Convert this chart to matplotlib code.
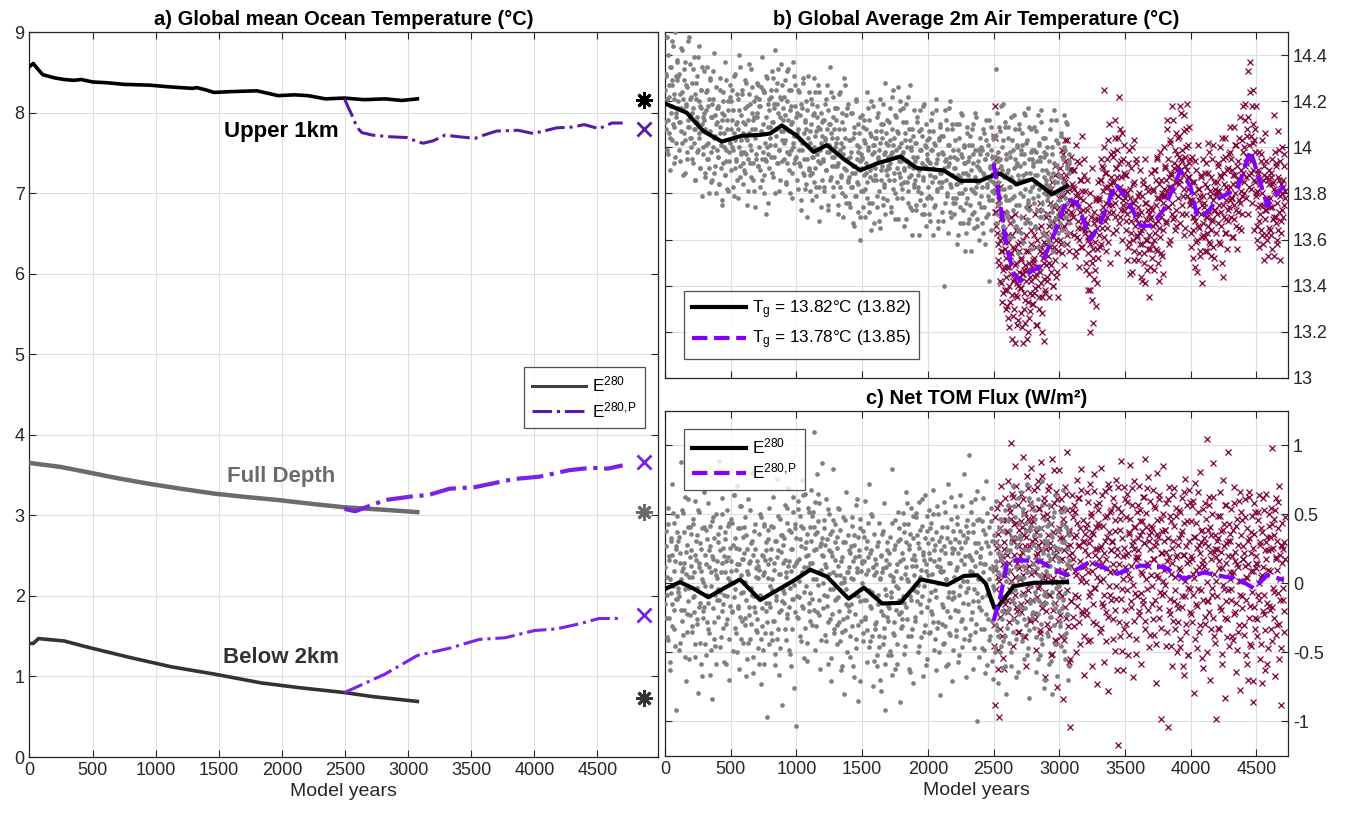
import numpy as np
import matplotlib
matplotlib.use('Agg')
import matplotlib.pyplot as plt
from matplotlib.lines import Line2D
from matplotlib.ticker import FixedLocator, FixedFormatter

plt.rcParams['font.family'] = ['Liberation Sans', 'DejaVu Sans']
plt.rcParams['mathtext.default'] = 'regular'
plt.rcParams['axes.unicode_minus'] = False

# ---------------- Panel a: ocean temperature (deg C) ----------------
upper_ctrl_yr = [0, 30, 60, 105, 200, 275, 350, 410, 500, 614, 750, 953, 1100, 1292, 1325, 1400,
                 1462, 1600, 1801, 1970, 2100, 2207, 2344, 2496, 2650, 2818, 2950, 3073]
upper_ctrl = [8.57, 8.61, 8.55, 8.47, 8.43, 8.41, 8.40, 8.41, 8.38, 8.37, 8.35, 8.34, 8.32, 8.30, 8.31, 8.28,
              8.25, 8.26, 8.27, 8.21, 8.22, 8.21, 8.17, 8.18, 8.16, 8.17, 8.15, 8.17]
upper_pert_yr = [2496, 2530, 2560, 2581, 2610, 2635, 2717, 2850, 2988, 3090, 3122, 3200, 3293, 3400,
                 3530, 3600, 3700, 3870, 3990, 4100, 4175, 4300, 4395, 4513, 4615, 4700]
upper_pert = [8.17, 8.05, 7.95, 7.87, 7.79, 7.75, 7.72, 7.70, 7.69, 7.63, 7.62, 7.65, 7.72, 7.70,
              7.68, 7.72, 7.77, 7.78, 7.74, 7.78, 7.81, 7.82, 7.85, 7.80, 7.87, 7.87]
full_ctrl_yr = [0, 250, 444, 700, 953, 1200, 1462, 1700, 1970, 2250, 2496, 2800, 3073]
full_ctrl = [3.65, 3.60, 3.54, 3.46, 3.39, 3.33, 3.27, 3.23, 3.19, 3.14, 3.10, 3.07, 3.04]
full_pert_yr = [2496, 2581, 2700, 2818, 3055, 3157, 3327, 3530, 3836, 4040, 4275, 4446, 4582, 4700]
full_pert = [3.08, 3.05, 3.12, 3.19, 3.24, 3.25, 3.33, 3.35, 3.45, 3.48, 3.56, 3.59, 3.58, 3.62]
below_ctrl_yr = [0, 30, 71, 275, 444, 783, 1122, 1462, 1835, 2140, 2496, 2717, 3073]
below_ctrl = [1.41, 1.41, 1.47, 1.44, 1.37, 1.24, 1.12, 1.03, 0.92, 0.86, 0.80, 0.75, 0.69]
below_pert_yr = [2496, 2818, 3073, 3327, 3564, 3767, 4003, 4175, 4376, 4513, 4700]
below_pert = [0.80, 1.03, 1.26, 1.35, 1.46, 1.48, 1.57, 1.59, 1.66, 1.72, 1.72]
# equilibrium estimates plotted at the right edge
eq_year = 4870
eq_ctrl = [8.15, 3.04, 0.73]      # asterisks: upper, full, below
eq_pert = [7.79, 3.66, 1.76]      # crosses

# ---------------- Panel b: 2m air temperature ----------------
tas_ctrl_yr = [0, 165, 292, 432, 584, 724, 800, 889, 1003, 1130, 1231, 1358, 1485, 1612, 1790, 1917,
               2120, 2247, 2399, 2500, 2551, 2678, 2793, 2945, 3059]
tas_ctrl = [14.19, 14.15, 14.07, 14.025, 14.05, 14.054, 14.06, 14.095, 14.05, 13.98, 14.01, 13.95, 13.90,
            13.93, 13.96, 13.91, 13.90, 13.855, 13.855, 13.88, 13.885, 13.84, 13.862, 13.797, 13.833]
tas_pert_yr = [2500, 2551, 2602, 2653, 2704, 2780, 2856, 2945, 3059, 3135, 3237, 3313, 3427, 3516, 3618,
               3694, 3795, 3922, 3998, 4049, 4130, 4201, 4354, 4455, 4583, 4709]
tas_pert = [13.93, 13.75, 13.56, 13.455, 13.42, 13.46, 13.485, 13.60, 13.775, 13.76, 13.60, 13.67, 13.84,
            13.775, 13.66, 13.66, 13.73, 13.90, 13.83, 13.70, 13.72, 13.775, 13.82, 13.986, 13.746, 13.833]
# sampled annual points (two interleaved samples, every 5 model years each),
# hundredths of deg C above 13 deg C
tas_ctrl_pts_start = [0, 2]
tas_ctrl_pts_a = [
    125, 108, 131, 148, 112, 97, 122, 135, 104, 118, 146, 127, 110, 93, 121, 150, 115, 102, 129, 138,
    120, 99, 132, 111, 143, 107, 124, 88, 116, 129, 103, 137, 118, 95, 126, 112, 148, 109, 121, 100,
    104, 128, 93, 117, 139, 108, 86, 121, 113, 131, 99, 144, 106, 118, 91, 125, 110, 135, 97, 115,
    112, 89, 124, 101, 135, 95, 118, 80, 107, 129, 98, 113, 86, 121, 104, 141, 92, 110, 126, 99,
    96, 118, 84, 109, 130, 101, 77, 115, 93, 124, 106, 88, 137, 99, 112, 82, 120, 103, 94, 127,
    108, 90, 125, 99, 116, 79, 103, 132, 94, 111, 86, 121, 100, 140, 92, 114, 97, 123, 84, 106,
    98, 117, 89, 128, 104, 75, 112, 95, 136, 101, 119, 87, 108, 126, 93, 113, 81, 104, 122, 97,
    115, 92, 127, 100, 83, 118, 106, 139, 95, 110, 88, 124, 102, 71, 113, 130, 97, 109, 91, 121,
    104, 125, 96, 133, 111, 87, 119, 101, 142, 108, 93, 128, 115, 99, 81, 122, 107, 136, 94, 117,
    112, 95, 129, 103, 84, 120, 98, 134, 107, 90, 116, 125, 99, 78, 111, 102, 131, 93, 118, 105,
    96, 115, 82, 108, 124, 92, 103, 73, 117, 99, 128, 88, 106, 112, 84, 120, 95, 131, 101, 90,
    107, 88, 121, 96, 77, 114, 100, 130, 91, 105, 83, 118, 97, 109, 68, 124, 93, 102, 115, 86,
    94, 112, 81, 119, 103, 90, 127, 98, 75, 110, 101, 135, 87, 106, 96, 122, 83, 108, 117, 92,
    102, 85, 117, 93, 71, 108, 99, 124, 88, 111, 80, 97, 130, 91, 104, 76, 114, 95, 86, 119,
    87, 103, 74, 98, 115, 83, 92, 66, 106, 89, 121, 79, 95, 110, 84, 100, 70, 113, 91, 97,
    96, 81, 109, 88, 70, 102, 93, 124, 85, 99, 76, 112, 90, 105, 64, 97, 118, 86, 101, 91,
    88, 104, 79, 113, 95, 68, 99, 121, 86, 107, 92, 75, 110, 97, 83, 128, 90, 102, 77, 96,
    101, 86, 117, 93, 72, 108, 98, 125, 89, 104, 80, 96, 113, 91, 106, 69, 100, 120, 87, 94,
    97, 82, 111, 90, 66, 103, 94, 119, 85, 100, 76, 108, 92, 127, 88, 99, 73, 105, 91, 84,
    86, 102, 75, 96, 113, 83, 90, 62, 99, 108, 80, 93, 118, 87, 71, 101, 92, 110, 78, 95,
    94, 79, 107, 88, 68, 99, 85, 115, 91, 74, 102, 87, 121, 93, 82, 97, 65, 104, 89, 110,
    83, 98, 72, 105, 90, 40, 94, 112, 86, 79, 101, 92, 117, 84, 96, 70, 108, 88, 99, 76,
    91, 76, 103, 84, 58, 95, 88, 110, 80, 67, 97, 85, 114, 89, 73, 100, 82, 93, 63, 106,
    78, 94, 69, 101, 86, 55, 90, 108, 81, 97, 72, 87, 115, 83, 92, 66, 99, 85, 76, 104,
    90, 74, 99, 83, 63, 106, 88, 95, 70, 112, 84, 79, 101, 42, 92, 86, 109, 77, 96, 81,
    93, 80, 105, 87, 134, 71, 98, 85, 109, 76, 95, 118, 82, 90, 66, 103, 88, 111, 79, 97,
    89, 72, 104, 83, 61, 96, 87, 113, 78, 99, 68, 91, 108, 84, 75, 101, 93, 64, 86, 110,
    80, 97, 70, 106, 88, 59, 93, 115, 82, 74, 102, 86, 117, 77, 95, 67, 89, 108, 83, 99,
    92, 76, 109, 84, 65, 98, 88, 114, 79, 101, 70, 94, 116, 83, 73, 104, 87, 96, 62, 90,
    86, 71, 100, 79, 58, 94, 83, 112, 75, 97, 66, 89, 116, 80, 69, 103, 85, 92, 63, 77,
    88, 73, 105, 81, 64, 96, 85, 114, 78, 99, 70, 91, 110, 83, 67, 94]
tas_ctrl_pts_b = [
    111, 132, 99, 121, 140, 106, 127, 90, 135, 115, 129, 103, 144, 109, 123, 96, 131, 113, 137, 117,
    131, 111, 123, 94, 117, 142, 102, 121, 106, 134, 89, 119, 127, 98, 146, 109, 114, 136, 104, 122,
    95, 115, 134, 102, 108, 123, 86, 128, 111, 98, 139, 104, 120, 91, 117, 125, 79, 113, 100, 133,
    108, 87, 116, 125, 95, 102, 121, 91, 130, 113, 85, 119, 100, 133, 89, 105, 114, 80, 111, 117,
    96, 117, 84, 106, 125, 91, 112, 75, 120, 100, 114, 88, 129, 94, 108, 81, 116, 98, 122, 102,
    120, 100, 112, 83, 106, 131, 91, 110, 95, 123, 78, 108, 116, 87, 135, 98, 103, 125, 93, 111,
    90, 110, 129, 97, 103, 118, 81, 123, 106, 93, 134, 99, 115, 86, 112, 120, 74, 108, 95, 128,
    113, 92, 121, 118, 90, 107, 126, 86, 125, 98, 80, 124, 95, 131, 94, 100, 119, 76, 116, 109,
    101, 122, 89, 111, 130, 96, 117, 80, 125, 105, 119, 93, 134, 99, 113, 86, 121, 103, 127, 107,
    122, 102, 114, 85, 108, 133, 93, 112, 97, 125, 80, 110, 118, 89, 137, 100, 105, 127, 95, 113,
    86, 106, 125, 93, 99, 114, 77, 119, 102, 89, 130, 95, 111, 82, 108, 116, 70, 104, 91, 124,
    102, 81, 110, 119, 89, 96, 115, 85, 124, 107, 79, 113, 94, 127, 83, 99, 108, 74, 105, 111,
    95, 112, 83, 104, 121, 90, 108, 73, 116, 98, 110, 86, 124, 92, 104, 79, 113, 96, 117, 100,
    112, 92, 104, 75, 98, 123, 83, 102, 87, 115, 70, 100, 108, 79, 127, 90, 95, 117, 85, 103,
    76, 96, 115, 83, 89, 104, 67, 109, 92, 79, 120, 85, 101, 72, 98, 106, 60, 94, 81, 114,
    95, 74, 103, 112, 82, 89, 108, 78, 117, 100, 72, 106, 87, 120, 76, 92, 101, 67, 98, 104,
    86, 107, 74, 96, 115, 81, 102, 65, 110, 90, 104, 78, 119, 84, 98, 71, 106, 88, 112, 92,
    111, 91, 103, 74, 97, 122, 82, 101, 86, 114, 69, 99, 107, 78, 126, 89, 94, 116, 84, 102,
    78, 98, 117, 85, 91, 106, 69, 111, 94, 81, 122, 87, 103, 74, 100, 108, 62, 96, 83, 116,
    94, 73, 102, 111, 81, 88, 107, 77, 116, 99, 71, 105, 86, 119, 75, 91, 100, 66, 97, 103,
    83, 104, 71, 93, 112, 78, 99, 62, 107, 87, 101, 75, 116, 81, 95, 68, 103, 85, 109, 89,
    105, 85, 97, 68, 91, 116, 76, 95, 80, 108, 63, 93, 101, 72, 120, 83, 88, 110, 78, 96,
    71, 91, 110, 78, 84, 99, 62, 104, 87, 74, 115, 80, 96, 67, 93, 101, 55, 89, 76, 109,
    88, 67, 96, 105, 75, 82, 101, 71, 110, 93, 65, 99, 80, 113, 69, 85, 94, 60, 91, 97,
    79, 100, 67, 89, 108, 74, 95, 58, 103, 83, 97, 71, 112, 77, 91, 64, 99, 81, 105, 85,
    104, 84, 96, 67, 90, 115, 75, 94, 79, 107, 62, 92, 100, 71, 119, 82, 87, 109, 77, 95,
    70, 90, 109, 77, 83, 98, 61, 103, 86, 73, 114, 79, 95, 66, 92, 100, 54, 88, 75, 108,
    92, 63, 99, 101, 79, 86, 97, 67, 114, 89, 69, 103, 76, 109, 73, 81, 98, 56, 95, 93,
    78, 99, 66, 88, 107, 73, 94, 57, 102, 82, 96, 70, 111, 76, 90, 63, 98, 80, 104, 84,
    97, 77, 89, 60, 83, 108, 68, 87, 72, 100, 55, 85, 93, 64, 112, 75, 80, 102, 70, 88,
    67, 87, 106, 74, 80, 95, 58, 100, 83, 70, 111, 76, 92, 63, 89, 97]
tas_pert_pts_start = [2500, 2502]
tas_pert_pts_a = [
    105, 88, 118, 72, 95, 63, 84, 51, 77, 60, 42, 69, 55, 33, 61, 47, 72, 38, 56, 44,
    48, 31, 62, 40, 22, 53, 45, 70, 36, 27, 57, 43, 15, 49, 64, 35, 41, 25, 55, 46,
    39, 52, 28, 45, 15, 60, 37, 47, 24, 55, 42, 68, 33, 20, 50, 44, 29, 58, 36, 48,
    51, 37, 62, 44, 23, 57, 48, 73, 40, 30, 55, 46, 66, 35, 20, 52, 43, 59, 38, 49,
    58, 44, 71, 53, 35, 66, 60, 82, 49, 62, 40, 75, 57, 92, 51, 64, 46, 69, 55, 78,
    74, 60, 88, 70, 54, 97, 79, 66, 85, 103, 72, 58, 81, 92, 68, 77, 63, 90, 75, 84,
    71, 83, 62, 90, 76, 55, 79, 94, 68, 74, 60, 86, 72, 65, 81, 57, 77, 69, 88, 64,
    66, 50, 73, 38, 61, 45, 20, 58, 70, 34, 63, 52, 24, 67, 47, 59, 78, 41, 56, 69,
    62, 77, 70, 86, 58, 92, 74, 81, 125, 68, 89, 76, 95, 65, 83, 110, 72, 79, 97, 80,
    85, 72, 98, 80, 112, 76, 91, 64, 87, 104, 79, 122, 83, 70, 94, 81, 106, 75, 89, 73,
    78, 64, 88, 71, 57, 93, 75, 45, 82, 68, 100, 73, 60, 85, 51, 77, 69, 95, 62, 74,
    67, 54, 80, 63, 44, 72, 58, 86, 65, 50, 76, 41, 69, 60, 83, 56, 71, 62, 48, 74,
    70, 58, 82, 66, 47, 90, 63, 75, 55, 96, 68, 42, 78, 61, 86, 72, 53, 80, 64, 100,
    79, 91, 68, 86, 112, 74, 95, 83, 60, 102, 88, 76, 118, 81, 70, 93, 85, 106, 66, 90,
    92, 78, 105, 86, 118, 95, 71, 99, 88, 114, 82, 96, 65, 108, 90, 79, 101, 87, 93, 75,
    76, 63, 85, 70, 52, 80, 68, 94, 59, 73, 46, 82, 65, 77, 55, 88, 71, 61, 79, 67,
    74, 61, 89, 70, 55, 83, 66, 102, 72, 58, 79, 64, 95, 69, 77, 52, 85, 73, 63, 80,
    81, 67, 93, 75, 58, 88, 72, 104, 79, 44, 84, 70, 96, 63, 77, 90, 68, 82, 74, 109,
    83, 70, 95, 78, 61, 88, 75, 101, 80, 66, 92, 84, 72, 104, 77, 86, 64, 90, 79, 118,
    98, 85, 112, 92, 78, 105, 96, 133, 88, 101, 137, 94, 82, 118, 125, 90, 103, 86, 108, 80,
    79, 66, 90, 74, 57, 84, 71, 97, 62, 80, 75, 51, 88, 69, 94, 73, 60, 86, 77, 65,
    78, 64, 89, 74, 56, 85, 70, 114, 81, 67, 93, 76, 60, 87, 72, 99, 79, 63, 84, 73,
    83, 70, 92, 78]
tas_pert_pts_b = [
    96, 72, 104, 81, 66, 90, 58, 75, 49, 83, 62, 41, 70, 55, 37, 64, 48, 59, 30, 52,
    38, 59, 26, 48, 67, 33, 54, 17, 62, 42, 56, 30, 71, 36, 50, 23, 58, 40, 64, 44,
    59, 39, 51, 22, 45, 70, 30, 49, 34, 62, 17, 47, 55, 26, 74, 37, 42, 64, 32, 50,
    32, 52, 71, 39, 45, 60, 23, 65, 48, 35, 76, 41, 57, 28, 54, 62, 16, 50, 37, 70,
    63, 42, 71, 80, 50, 57, 76, 46, 85, 68, 40, 74, 55, 88, 44, 60, 69, 35, 66, 72,
    70, 91, 58, 80, 99, 65, 86, 49, 94, 74, 88, 62, 103, 68, 82, 55, 90, 72, 96, 76,
    90, 70, 82, 53, 76, 101, 61, 80, 65, 93, 48, 78, 86, 57, 105, 68, 73, 95, 63, 81,
    47, 67, 86, 54, 60, 75, 38, 80, 63, 50, 91, 56, 72, 43, 69, 77, 31, 65, 52, 85,
    78, 57, 86, 95, 65, 72, 91, 61, 100, 83, 55, 89, 70, 103, 59, 75, 84, 50, 81, 87,
    75, 96, 63, 85, 104, 70, 91, 54, 99, 79, 93, 67, 108, 73, 87, 60, 95, 77, 101, 81,
    88, 68, 80, 51, 74, 99, 59, 78, 63, 91, 46, 76, 84, 55, 103, 66, 71, 93, 61, 79,
    51, 71, 90, 58, 64, 79, 42, 84, 67, 54, 95, 60, 76, 47, 73, 81, 35, 69, 56, 89,
    73, 52, 81, 90, 60, 67, 86, 56, 95, 78, 50, 84, 65, 98, 54, 70, 79, 45, 76, 82,
    79, 92, 67, 81, 108, 74, 87, 58, 103, 83, 89, 71, 112, 69, 91, 64, 99, 73, 97, 85,
    104, 84, 96, 67, 90, 115, 75, 94, 79, 107, 62, 92, 100, 71, 119, 82, 87, 109, 77, 95,
    57, 77, 96, 64, 70, 85, 48, 90, 73, 60, 101, 66, 82, 53, 79, 87, 41, 75, 62, 95,
    76, 55, 84, 93, 63, 70, 89, 59, 98, 81, 53, 87, 68, 101, 57, 73, 82, 48, 79, 85,
    71, 92, 59, 81, 100, 66, 87, 50, 95, 75, 89, 63, 104, 69, 83, 56, 91, 73, 97, 77,
    98, 78, 90, 61, 84, 109, 69, 88, 73, 101, 56, 86, 94, 65, 113, 76, 81, 103, 71, 89,
    80, 100, 119, 87, 93, 108, 71, 113, 96, 83, 124, 89, 105, 76, 102, 110, 64, 98, 85, 118,
    81, 60, 89, 98, 68, 75, 94, 64, 103, 86, 58, 92, 73, 106, 62, 78, 87, 53, 84, 90,
    74, 87, 62, 84, 95, 69, 82, 53, 98, 70, 92, 58, 107, 64, 86, 51, 94, 68, 100, 80,
    86, 75, 97, 81]

# ---------------- Panel c: net TOM flux (W/m2) ----------------
flux_ctrl_yr = [0, 114, 216, 330, 419, 571, 724, 978, 1105, 1232, 1397, 1513, 1652, 1792, 1944, 2148,
                2275, 2376, 2440, 2503, 2526, 2652, 2804, 3059]
flux_ctrl = [-0.04, 0.01, -0.036, -0.10, -0.05, 0.03, -0.12, 0.02, 0.10, 0.05, -0.11, -0.03, -0.145,
             -0.14, 0.03, -0.01, 0.055, 0.06, 0.0, -0.17, -0.18, -0.02, 0.005, 0.01]
flux_pert_yr = [2500, 2551, 2602, 2678, 2856, 2960, 3059, 3237, 3440, 3618, 3795, 3947, 4100, 4252,
                4354, 4481, 4583, 4709]
flux_pert = [-0.27, -0.10, 0.145, 0.17, 0.16, 0.10, 0.06, 0.16, 0.07, 0.13, 0.12, 0.035, 0.08, 0.05,
             0.035, -0.035, 0.06, 0.025]
# sampled annual points (two interleaved samples, every 5 model years each), hundredths of W/m2
flux_ctrl_pts_start = [0, 2]
flux_ctrl_pts_a = [
    12, -25, 38, -8, 55, -41, 20, 3, -63, 31, -15, 72, -2, 44, -33, 16, -92, 27, -11, 49,
    -6, 34, -48, 22, 88, -19, 9, 51, -37, 15, -4, 63, -71, 28, -22, 41, 5, -55, 19, 36,
    24, -31, 47, -10, 8, 60, -44, 17, -26, 35, -79, 12, 52, -14, 29, -58, 3, 40, -20, 66,
    -17, 21, -52, 39, -8, 58, -33, 12, -66, 27, -2, 45, -84, 18, -28, 33, -45, 6, 50, -12,
    30, -24, 89, -6, 41, -39, 15, 62, -15, 26, -57, 8, 37, -29, 53, -9, 19, -70, 44, 2,
    9, 47, -21, 28, -49, 64, -4, 33, -36, 14, 71, -18, 25, -62, 40, -7, 56, -27, 18, -43,
    22, -30, 48, -12, 35, -55, 7, 61, -23, 16, -40, 29, 80, -8, -65, 38, -17, 25, -34, 11,
    -26, 13, -47, 36, -9, 50, -73, 21, -31, 6, 43, -58, 17, -20, 30, -97, 4, 39, -14, 55,
    18, -36, 42, -5, 63, -27, 10, -51, 31, -12, 76, -40, 24, -66, 7, 47, -19, 35, -88, 15,
    28, -14, 57, -33, 8, 44, -22, 69, -48, 16, -3, 37, -60, 25, -11, 52, -76, 13, 40, -103,
    33, -9, 60, -25, 18, 49, -38, 27, 75, -16, 40, -54, 12, 65, -2, 30, -43, 55, 21, -20,
    41, -7, 68, 15, -30, 52, 110, 24, -48, 36, 3, 79, -21, 45, -12, 58, -62, 29, 10, 87,
    20, -18, 46, -37, 14, 61, -9, 32, -58, 7, 50, -26, 23, -71, 38, -4, 83, -33, 17, 43,
    -11, 26, -44, 13, 55, -28, 6, 39, -63, 19, -35, 48, 1, -80, 30, -15, 66, -24, 8, 35,
    -20, 22, -53, 4, 42, -31, 16, -68, 28, -8, 57, -40, 11, 34, -85, 20, -13, 47, -27, 9,
    15, -36, 38, -12, 60, -24, 7, 31, -57, 19, -5, 72, -42, 24, -18, 49, -74, 12, 36, -29,
    -33, 8, -60, 27, -15, 44, -46, 3, 21, -78, 36, -23, 11, 58, -39, -92, 17, -8, 30, -52,
    -27, 14, -49, 34, -10, 83, -66, 5, 25, -37, 46, -19, 9, -58, 31, -3, 40, -86, 16, -21,
    22, -31, 51, -14, 37, -45, 12, 66, -26, 3, 43, -62, 28, -9, 55, -38, 18, -72, 33, 6,
    17, -24, 48, -6, 35, -50, 26, 59, -15, 10, -39, 42, -67, 21, -2, 64, -30, 14, -55, 38,
    29, -12, 53, -35, 18, 44, -22, 7, 68, -48, 24, -5, 37, -63, 13, 50, -28, 31, -81, 9,
    8, -29, 41, -17, 59, -43, 22, 3, -60, 33, -10, 72, -36, 15, -24, 47, -71, 26, -6, 38,
    25, -19, 56, -38, 12, 43, -57, 30, -8, 64, -27, 17, -46, 35, 2, 79, -32, 20, -68, 46,
    33, -15, 93, -41, 19, 52, -26, 8, -62, 37, -4, 61, -35, 23, -100, 46, -13, 29, -53, 15,
    20, -33, 45, -10, 62, -48, 14, 36, -22, 74, -59, 27, -6, 41, -38, 11, 55, -27, 31, -69,
    -18, 35, -50, 16, 60, -34, 8, -72, 27, -9, 47, -45, 21, -26, 38, -61, 12, 53, -38, -80,
    24, -21, 57, -43, 10, 39, -60, 29, -12, 71, -35, 17, -5, 48, -68, 33, -28, 62, -16, 5,
    35, -18, 66, -37, 13, 50, -55, 24, -8, 44, -30, 72, -47, 19, -83, 39, -14, 58, -25, 9,
    28, -32, 53, -11, 40, -64, 18, 61, -22, 6, -52, 35, -40, 74, -15, 25, -76, 47, -6, 31,
    -9, 42, -36, 21, 57, -58, 13, -24, 36, -80, 48, -14, 27, -44, 64, -3, 19, -67, 39, -20,
    16, -28, 52, -45, 30, -12, 68, -38, 7, -55, 41, -22, 25, -70, 12, 35]
flux_ctrl_pts_b = [
    -15, 27, -39, 5, 43, -25, 17, -57, 33, -7, 21, -31, 51, -19, 9, -45, 25, -11, 37, -3,
    31, -9, 15, -43, 3, 53, -27, 11, -19, 37, -53, 7, 23, -35, 61, -13, -3, 41, -23, 13,
    -35, 5, 43, -21, -9, 21, -53, 31, -3, -29, 53, -17, 15, -43, 9, 25, -67, 1, -25, 41,
    -2, -44, 14, 32, -28, -14, 24, -36, 42, 8, -48, 20, -18, 48, -40, -8, 10, -58, 4, 16,
    -4, 36, -12, 24, -46, 8, -20, 50, -32, 20, -8, 32, -58, 16, -26, 42, 4, -40, 26, -16,
    16, -20, 44, 0, -10, 64, -32, 26, 10, -50, 40, -16, 14, -24, 56, 6, -40, 18, -6, 34,
    41, -25, 1, -67, 25, 9, -43, 15, -17, 53, -29, -3, 31, -53, 21, -9, -21, 43, 5, -35,
    16, 4, -58, 10, -8, -40, 48, -18, 20, -48, 8, 42, -36, 24, -14, -28, 32, 14, -44, -2,
    -17, 25, -41, 3, 41, -27, 15, -59, 31, -9, 19, -33, 49, -21, 7, -47, 23, -13, 35, -5,
    33, -7, 17, -41, 5, 55, -25, 13, -17, 39, -51, 9, 25, -33, 63, -11, -1, 43, -21, 15,
    -24, 16, 54, -10, 2, 32, -42, 42, 8, -18, 64, -6, 26, -32, 20, 36, -56, 12, -14, 52,
    15, -27, 31, 49, -11, 3, 41, -19, 59, 25, -31, 37, -1, 65, -23, 9, 27, -41, 21, 33,
    0, 40, -8, 28, -42, 12, -16, 54, -28, 24, -4, 36, -54, 20, -22, 46, 8, -36, 30, -12,
    6, -30, 34, -10, -20, 54, -42, 16, 0, -60, 30, -26, 4, -34, 46, -4, -50, 8, -16, 24,
    12, -38, 27, -15, 48, -60, 3, 35, -22, 19, -47, 8, 61, -30, -9, 24, -71, 40, -4, 16,
    0, -42, 16, 34, -26, -12, 26, -34, 44, 10, -46, 22, -16, 50, -38, -6, 12, -56, 6, 18,
    -28, 14, -52, -8, 30, -38, 4, -70, 20, -20, 8, -44, 38, -32, -4, -58, 12, -24, 24, -16,
    22, -18, 6, -52, -6, 44, -36, 2, -28, 28, -62, -2, 14, -44, 52, -22, -12, 32, -32, 4,
    -26, 18, -9, 43, -51, 7, 30, -17, 58, -38, 2, 25, -64, 36, -12, 13, -33, 49, -5, 21,
    -27, 13, 51, -13, -1, 29, -45, 39, 5, -21, 61, -9, 23, -35, 17, 33, -59, 9, -17, 49,
    6, -36, 22, 40, -20, -6, 32, -28, 50, 16, -40, 28, -10, 56, -32, 0, 18, -50, 12, 24,
    34, -15, 9, -44, 27, 52, -31, 3, -20, 41, -58, 15, -6, 30, -37, 63, -11, 22, -48, 5,
    -10, 32, -34, 10, 48, -20, 22, -52, 38, -2, 26, -26, 56, -14, 14, -40, 30, -6, 42, 2,
    37, -3, 21, -37, 9, 59, -21, 17, -13, 43, -47, 13, 29, -29, 67, -7, 3, 47, -17, 19,
    -19, 26, -47, 8, 39, -33, 14, -65, 30, -8, 51, -26, 3, -41, 22, -12, 45, -56, 10, -2,
    -4, -46, 12, 30, -30, -16, 22, -38, 40, 6, -50, 18, -20, 46, -42, -10, 8, -60, 2, 14,
    -32, 8, 46, -18, -6, 24, -50, 34, 0, -26, 56, -14, 18, -40, 12, 28, -64, 4, -22, 44,
    32, -8, 16, -42, 4, 54, -26, 12, -18, 38, -52, 8, 24, -34, 62, -12, -2, 42, -22, 14,
    -21, 35, -6, 47, -39, 11, 26, -55, 18, -13, 40, -29, 5, 57, -44, 22, -8, 31, -70, 9,
    -14, 28, -38, 6, 44, -24, 18, -56, 34, -6, 22, -30, 52, -18, 10, -44, 26, -10, 38, -2,
    25, -31, 8, 43, -18, 3, -49, 30, -7, 55, -36, 14, -22, 39, -60, 17]
flux_pert_pts_start = [2500, 2502]
flux_pert_pts_a = [
    -45, 12, -88, 30, -20, 55, -62, 5, -97, 40, -33, 18, 71, -10, 46, -54, 25, -15, 62, 8,
    38, -12, 74, 15, -28, 52, 102, 2, 33, -45, 63, 21, -8, 85, 44, -20, 28, 57, -35, 11,
    20, 65, -15, 41, 92, 6, -38, 50, 27, -60, 34, 78, -5, 47, 13, -26, 58, 84, -12, 31,
    45, -22, 68, 9, 37, -48, 22, 74, -3, 55, 16, -34, 88, 30, -14, 49, 6, 62, -68, 25,
    14, 50, -29, 35, 71, -8, 26, -52, 43, 90, 4, -19, 58, 21, -41, 66, 10, -75, 38, 82,
    -6, 33, 61, -38, 18, 47, -84, 24, 70, 2, -25, 53, 95, 12, -57, 39, -104, 28, -13, 64,
    22, 48, -31, 57, 9, -50, 35, 75, -10, 27, 62, -44, 16, 83, 5, -22, 46, -66, 31, 13,
    40, -19, 66, 8, -42, 29, 72, -6, 51, 15, -60, 36, -28, 79, 21, -3, 57, -73, 25, 44,
    18, 58, -35, 27, 84, -14, 42, 3, -57, 67, 31, -21, 49, 11, -78, 37, 69, -8, 24, 53,
    30, -26, 62, 9, -49, 38, 75, -11, 21, -117, 55, 14, -38, 47, 89, -4, 33, -63, 26, 70,
    12, 48, -29, 65, 22, -52, 36, 86, 3, -17, 57, 28, -68, 41, 74, -7, 19, -40, 52, 33,
    24, 71, -20, 45, 8, -58, 38, 63, -12, 29, 90, -33, 51, 15, -4, 77, -46, 35, 60, 6,
    42, -15, 68, 18, -37, 55, 27, -72, 36, 80, 4, -25, 61, 13, -98, 47, 22, -8, 85, 31,
    -7, 39, -45, 58, 16, -104, 33, 70, -22, 49, 7, -60, 26, 64, -13, 42, -33, 55, 19, -50,
    28, -18, 53, 10, -40, 36, 62, -9, 21, -66, 44, 76, 2, -29, 57, 15, -52, 31, 68, -4,
    20, 45, -28, 60, 7, -79, 34, 73, -15, 26, -47, 52, 12, -35, 81, 30, -5, 39, -61, 17,
    33, -24, 58, 9, -50, 105, 27, -13, 63, 41, -70, 18, 50, -8, 87, 23, -38, 35, 2, -98,
    25, 49, -32, 16, 66, -17, 38, -58, 11, 75, -4, 43, -83, 29, 57, -26, 20, 95, -45, 8,
    31, -12, 54, 6, -41, 39, 70, -21, 23, -64, 47, 14, -35, 60, 2, -77, 35, 52, -9, 18,
    27, -30, 61, 13, -52, 40, 4, -70, 33, 66, -16, 22, -45, 49, 9, -86, 36, 58, -25, 15,
    20, -38, 46, -8, 64, -55, 28, 5, -72, 37, 12, -22, 53, -63, 30, 65, -14, 24, -47, 42,
    34, -19, 55, 98, -42, 26, -6, 47, -67, 18, 62, -30, 10, 40, -55, 71, -12, 28, -88, 44,
    -3, 25, -20, 48]
flux_pert_pts_b = [
    -30, 10, 48, -16, -4, 26, -48, 36, 2, -24, 58, -12, 20, -38, 14, 30, -62, 6, -20, 46,
    21, -21, 37, 55, -5, 9, 47, -13, 65, 31, -25, 43, 5, 71, -17, 15, 33, -35, 27, 39,
    3, 45, -21, 23, 61, -7, 35, -39, 51, 11, 39, -13, 69, -1, 27, -27, 43, 7, 55, 15,
    48, 8, 32, -26, 20, 70, -10, 28, -2, 54, -36, 24, 40, -18, 78, 4, 14, 58, -6, 30,
    -20, 47, 5, 68, -33, 29, -8, 56, 18, -51, 37, 1, 82, -14, 24, -42, 61, 9, -27, 40,
    -23, 17, 55, -9, 3, 33, -41, 43, 9, -17, 65, -5, 27, -31, 21, 37, -55, 13, -13, 53,
    18, -24, 34, 52, -8, 6, 44, -16, 62, 28, -28, 40, 2, 68, -20, 12, 30, -38, 24, 36,
    1, 43, -23, 21, 59, -9, 33, -41, 49, 9, 37, -15, 67, -3, 25, -29, 41, 5, 53, 13,
    42, 2, 26, -32, 14, 64, -16, 22, -8, 48, -42, 18, 34, -24, 72, -2, 8, 52, -12, 24,
    31, -40, 14, 57, -19, 46, -2, -63, 25, 70, -28, 8, 39, -11, 52, -49, 20, 3, -33, 61,
    -19, 21, 59, -5, 7, 37, -37, 47, 13, -13, 69, -1, 31, -27, 25, 41, -51, 17, -9, 57,
    19, -23, 35, 53, -7, 7, 45, -15, 63, 29, -27, 41, 3, 69, -19, 13, 31, -37, 25, 37,
    -2, 40, -26, 18, 56, -12, 30, -44, 46, 6, 34, -18, 64, -6, 22, -32, 38, 2, 50, 10,
    39, -1, 23, -35, 11, 61, -19, 19, -11, 45, -45, 15, 31, -27, 69, -5, 5, 49, -15, 21,
    -28, 33, 11, -46, 52, 4, -17, 38, -60, 21, 66, -9, 27, -35, 45, -3, -52, 16, 59, -21,
    -22, 18, 56, -8, 4, 34, -40, 44, 10, -16, 66, -4, 28, -30, 22, 38, -54, 14, -12, 54,
    13, -29, 29, 47, -13, 1, 39, -21, 57, 23, -33, 35, -3, 63, -25, 7, 25, -43, 19, 31,
    -9, 33, -33, 11, 49, -19, 23, -51, 39, -1, 27, -25, 57, -13, 15, -39, 31, -5, 43, 3,
    36, -4, 20, -38, 8, 58, -22, 16, -14, 42, -48, 12, 28, -30, 66, -8, 2, 46, -18, 18,
    22, -37, 48, -12, 5, -58, 31, 14, -25, 63, -44, 9, 37, -6, -71, 26, -17, 52, -33, 11,
    -26, 14, 52, -12, 0, 30, -44, 40, 6, -20, 62, -8, 24, -34, 18, 34, -58, 10, -16, 50,
    9, -33, 25, 43, -17, -3, 35, -25, 53, 19, -37, 31, -7, 59, -29, 3, 21, -47, 15, 27,
    -12, 30, -35, 18]

PTS_STEP = 5  # sampling interval of each point series (model years)

# ---------------- colours ----------------
C_GRAYDOT = '#808080'
C_MAROON = '#80003c'
C_PURPLE = '#7f00ff'
C_PURPLE_DARK = '#5a1aa8'
C_PURPLE_MID = '#7a22e6'
C_FULL = '#6b6b6b'
C_BELOW = '#333333'
C_AX = '#262626'

W, H = 1347, 813
fig = plt.figure(figsize=(W / 100, H / 100), dpi=100)


def ax_at(l, t, r, b):
    return fig.add_axes([l / W, 1 - b / H, (r - l) / W, (b - t) / H])


def style(ax):
    ax.grid(True, color='#dedede', lw=0.8)
    ax.set_axisbelow(True)
    for s in ax.spines.values():
        s.set_color(C_AX)
        s.set_linewidth(0.9)
    ax.tick_params(direction='in', length=5, width=0.8, colors=C_AX, labelsize=13,
                   top=True, right=True, left=True, bottom=True)


def leg_style(leg):
    leg.get_frame().set_edgecolor(C_AX)
    leg.get_frame().set_linewidth(0.9)
    leg.set_zorder(10)


def series_xy(starts, lists):
    xs, ys = [], []
    for s, v in zip(starts, lists):
        xs.append(s + PTS_STEP * np.arange(len(v)))
        ys.append(np.asarray(v, dtype=float))
    return np.concatenate(xs), np.concatenate(ys)


LEG_KW = dict(fontsize=12.3, handlelength=3.2, frameon=True, fancybox=False, borderpad=0.45,
              handletextpad=0.35, borderaxespad=0)

axa = ax_at(29.5, 32, 658, 757)
axb = ax_at(665, 32, 1288, 378)
axc = ax_at(665, 411, 1288, 756)
for ax in (axa, axb, axc):
    style(ax)

# ---- panel a ----
axa.plot(upper_ctrl_yr, upper_ctrl, color='black', lw=2.6, zorder=4)
axa.plot(upper_pert_yr, upper_pert, color=C_PURPLE_DARK, lw=2.2, ls='-.', zorder=4)
axa.plot(full_ctrl_yr, full_ctrl, color=C_FULL, lw=3.2, zorder=4)
axa.plot(full_pert_yr, full_pert, color=C_PURPLE_MID, lw=3.0, ls='-.', zorder=4)
axa.plot(below_ctrl_yr, below_ctrl, color=C_BELOW, lw=2.6, zorder=4)
axa.plot(below_pert_yr, below_pert, color=C_PURPLE_MID, lw=2.2, ls='-.', zorder=4)

ast = (8, 2, 0)
for val, col in zip(eq_ctrl, ['black', C_FULL, C_BELOW]):
    axa.plot([eq_year], [val], marker=ast, ms=12, mew=2.0, color=col, ls='none', zorder=5)
for val, col in zip(eq_pert, [C_PURPLE_DARK, C_PURPLE_MID, C_PURPLE_MID]):
    axa.plot([eq_year], [val], marker='x', ms=10, mew=2.0, color=col, ls='none', zorder=5)

axa.text(1993, 7.76, 'Upper 1km', fontsize=16, fontweight='bold', ha='center', va='center', color='black')
axa.text(1993, 3.48, 'Full Depth', fontsize=16, fontweight='bold', ha='center', va='center', color=C_FULL)
axa.text(1993, 1.23, 'Below 2km', fontsize=16, fontweight='bold', ha='center', va='center', color=C_BELOW)

axa.set_xlim(0, 4980)
axa.set_ylim(0, 9)
axa.set_xticks(np.arange(0, 4501, 500))
axa.set_yticks(np.arange(0, 10, 1))
axa.set_title('a) Global mean Ocean Temperature (°C)', fontsize=14.5, fontweight='bold', pad=5)
axa.set_xlabel('Model years', fontsize=14, color=C_AX, labelpad=3)

leg_a = axa.legend([Line2D([], [], color='#404040', lw=2.2),
                    Line2D([], [], color=C_PURPLE_DARK, lw=2.2, ls='-.')],
                   ['E$^{280}$', 'E$^{280,\\!P}$'], loc='upper left', bbox_to_anchor=(0.787, 0.538),
                   labelspacing=0.35, **LEG_KW)
leg_style(leg_a)

# ---- panel b ----
x_tc, y_tc = series_xy(tas_ctrl_pts_start, [tas_ctrl_pts_a, tas_ctrl_pts_b])
x_tp, y_tp = series_xy(tas_pert_pts_start, [tas_pert_pts_a, tas_pert_pts_b])
axb.plot(x_tp, 13 + y_tp / 100, ls='none', marker='x', ms=4.0, mew=0.9, color=C_MAROON, zorder=2)
axb.plot(x_tc, 13 + y_tc / 100, ls='none', marker='o', ms=3.4, mfc=C_GRAYDOT, mec='none', zorder=3)
l1, = axb.plot(tas_ctrl_yr, tas_ctrl, color='black', lw=3.0, zorder=5)
l2, = axb.plot(tas_pert_yr, tas_pert, color=C_PURPLE, lw=3.0, ls='--', zorder=6)
axb.set_xlim(0, 4740)
axb.set_ylim(13, 14.5)
axb.set_xticks(np.arange(0, 4501, 500))
axb.yaxis.set_major_locator(FixedLocator([13, 13.2, 13.4, 13.6, 13.8, 14, 14.2, 14.4]))
axb.yaxis.set_major_formatter(FixedFormatter(['13', '13.2', '13.4', '13.6', '13.8', '14', '14.2', '14.4']))
axb.tick_params(labelleft=False, labelright=True, labelbottom=False)
axb.set_title('b) Global Average 2m Air Temperature (°C)', fontsize=14.5, fontweight='bold', pad=5)
leg_b = axb.legend([l1, l2], ['T$_g$ = 13.82°C (13.82)', 'T$_g$ = 13.78°C (13.85)'],
                   loc='lower left', bbox_to_anchor=(0.0305, 0.055), labelspacing=0.45, **LEG_KW)
leg_style(leg_b)

# ---- panel c ----
x_fc, y_fc = series_xy(flux_ctrl_pts_start, [flux_ctrl_pts_a, flux_ctrl_pts_b])
x_fp, y_fp = series_xy(flux_pert_pts_start, [flux_pert_pts_a, flux_pert_pts_b])
axc.plot(x_fp, y_fp / 100, ls='none', marker='x', ms=4.0, mew=0.9, color=C_MAROON, zorder=2)
axc.plot(x_fc, y_fc / 100, ls='none', marker='o', ms=3.4, mfc=C_GRAYDOT, mec='none', zorder=3)
m1, = axc.plot(flux_ctrl_yr, flux_ctrl, color='black', lw=3.0, zorder=5)
m2, = axc.plot(flux_pert_yr, flux_pert, color=C_PURPLE, lw=3.0, ls='--', zorder=6)
axc.set_xlim(0, 4740)
axc.set_ylim(-1.25, 1.25)
axc.set_xticks(np.arange(0, 4501, 500))
axc.yaxis.set_major_locator(FixedLocator([-1, -0.5, 0, 0.5, 1]))
axc.yaxis.set_major_formatter(FixedFormatter(['-1', '-0.5', '0', '0.5', '1']))
axc.tick_params(labelleft=False, labelright=True)
axc.set_title('c) Net TOM Flux (W/m²)', fontsize=14.5, fontweight='bold', pad=5)
axc.set_xlabel('Model years', fontsize=14, color=C_AX, labelpad=3)
leg_c = axc.legend([m1, m2], ['E$^{280}$', 'E$^{280,\\!P}$'], loc='upper left',
                   bbox_to_anchor=(0.0305, 0.947), labelspacing=0.3, **LEG_KW)
leg_style(leg_c)

fig.savefig('out.png', dpi=100)
